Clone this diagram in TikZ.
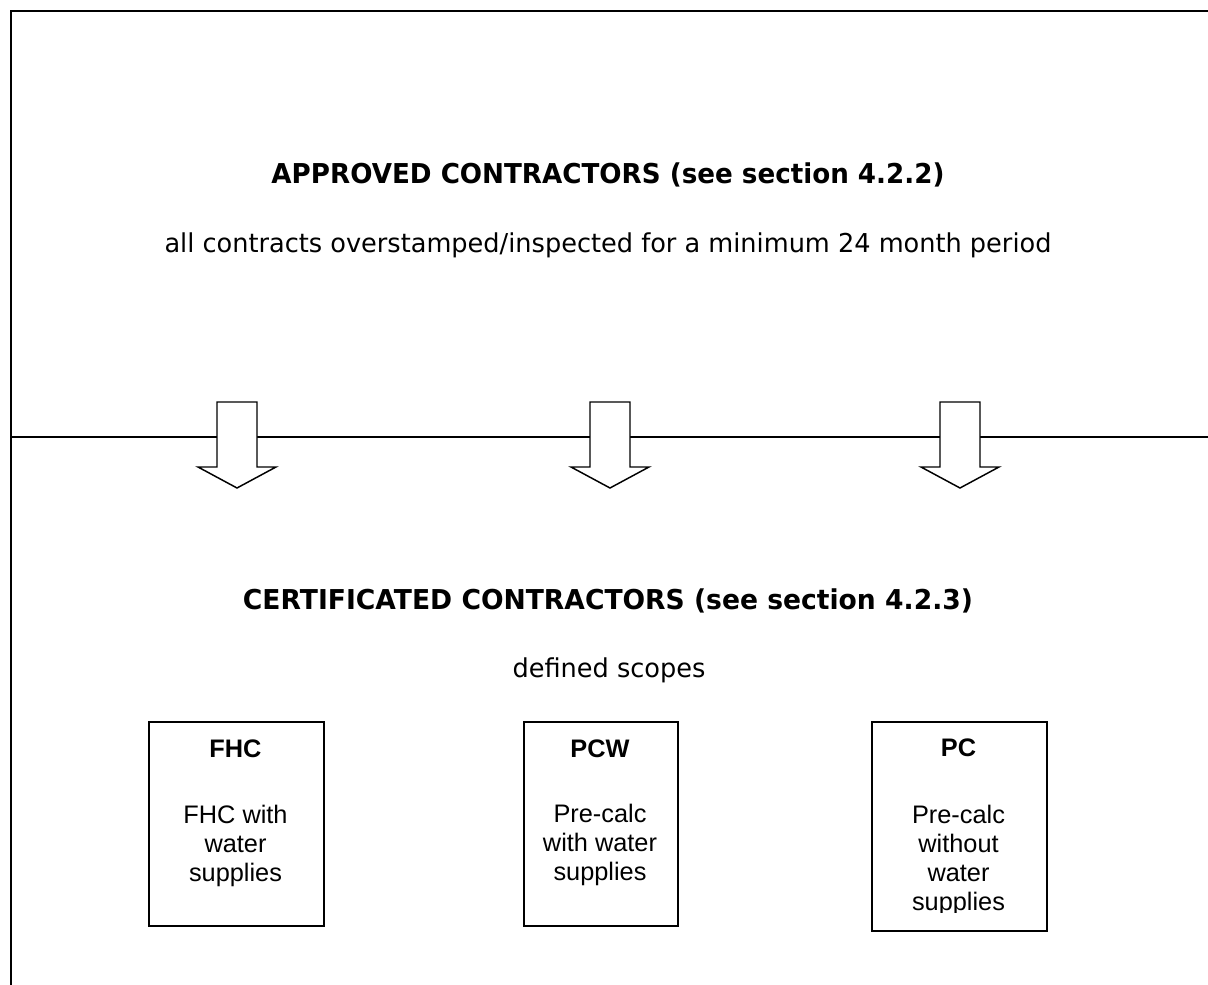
\documentclass[tikz,border=0pt]{standalone}
\usepackage{fontspec}
\setmainfont{Liberation Sans}
\newfontfamily\tah{DejaVu Sans}
\usepackage{graphicx}
\newlength\subw
\tikzset{
  frameline/.style={line width=2.1pt, line cap=rect},
  midline/.style={line width=1.6pt},
  blockarrow/.style={draw, fill=white, line width=1.1pt, line join=miter},
  scopebox/.style={draw, line width=1.5pt, anchor=north west, inner sep=0pt},
  headtxt/.style={font=\tah\bfseries\fontsize{20.5pt}{24pt}\selectfont, anchor=base, inner sep=0pt},
  subtxt/.style={font=\tah\fontsize{19.5pt}{23pt}\selectfont, anchor=base, inner sep=0pt},
  boxtitle/.style={font=\bfseries\fontsize{19pt}{21.75pt}\selectfont, anchor=base, inner sep=0pt},
  boxbody/.style={font=\fontsize{19pt}{21.75pt}\selectfont, align=center, anchor=base, inner sep=0pt},
}
\newcommand\blockarr[2]{%
  \coordinate (#1) at (#2,402);
  \draw[blockarrow] ([xshift=-20*0.75pt]#1) -- ([xshift=20*0.75pt]#1)
    -- ([xshift=20*0.75pt,yshift=-65*0.75pt]#1) -- ([xshift=39*0.75pt,yshift=-65*0.75pt]#1)
    -- ([yshift=-86*0.75pt]#1) -- ([xshift=-39*0.75pt,yshift=-65*0.75pt]#1)
    -- ([xshift=-20*0.75pt,yshift=-65*0.75pt]#1) -- cycle;}
\begin{document}
\settowidth\subw{\tah\fontsize{19.5pt}{23pt}\selectfont all contracts overstamped/inspected for a minimum 24 month period}%
\pgfmathsetmacro\sfac{665.25/\subw}%
\begin{tikzpicture}[x=0.75pt,y=-0.75pt]
\useasboundingbox (0,0) rectangle (1208,985);
% frame
\coordinate (fbl) at (11,985);
\coordinate (ftl) at (11,11);
\coordinate (ftr) at (1208,11);
\draw[frameline] (fbl) -- (ftl) -- (ftr);
\coordinate (ml) at (11,437);
\coordinate (mr) at (1208,437);
\draw[midline] (ml) -- (mr);
% headings
\node[headtxt] (h1) at (608,183) {\resizebox{504.75pt}{\height}{APPROVED CONTRACTORS (see section 4.2.2)}};
\node[subtxt] (s1) at (608,252) {\scalebox{\sfac}[1]{all contracts overstamped/inspected for a minimum 24 month period}};
% arrows
\blockarr{a1}{237}
\blockarr{a2}{610}
\blockarr{a3}{960}
\node[headtxt] (h2) at (608,609) {\resizebox{547.5pt}{\height}{CERTIFICATED CONTRACTORS (see section 4.2.3)}};
\node[subtxt] (s2) at (609,677) {\scalebox{\sfac}[1]{defined scopes}};
% boxes
\node[scopebox, minimum width=175*0.75pt, minimum height=204*0.75pt] (b1) at (148,721) {};
\node[scopebox, minimum width=154*0.75pt, minimum height=204*0.75pt] (b2) at (523,721) {};
\node[scopebox, minimum width=175*0.75pt, minimum height=209*0.75pt] (b3) at (871,721) {};
\node[boxtitle] (t1) at (235.5,757) {FHC};
\node[boxbody] (d1) at (235.5,881) {FHC with\\water\\supplies};
\node[boxtitle] (t2) at (600,757) {PCW};
\node[boxbody] (d2) at (600,880) {Pre-calc\\with water\\supplies};
\begin{scope}
\clip (871,721) rectangle (1046,912);
\node[boxtitle] (t3) at (958.5,756) {PC};
\node[boxbody] (d3) at (958.5,910) {Pre-calc\\without\\water\\supplies};
\end{scope}
\end{tikzpicture}
\end{document}
